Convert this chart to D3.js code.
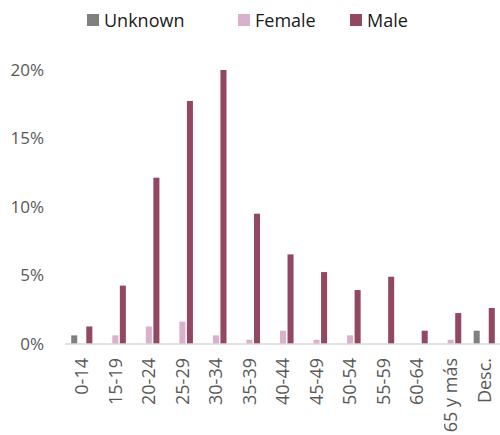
<!DOCTYPE html>
<html>
<head>
<meta charset="utf-8">
<script src="https://cdn.jsdelivr.net/npm/d3@7"></script>
<style>
  body { margin: 0; background: #fff; }
  text { font-family: "Open Sans", sans-serif; }
</style>
</head>
<body>
<div id="viz"></div>
<script>
// age groups and share of total (%) per sex
var categories = ['0-14','15-19','20-24','25-29','30-34','35-39','40-44','45-49','50-54','55-59','60-64','65 y más','Desc.'];
var series = ['Unknown', 'Female', 'Male'];
var unknownVals = [0.63, 0, 0, 0, 0, 0, 0, 0, 0, 0, 0, 0, 0.97];
var femaleVals  = [0, 0.63, 1.28, 1.63, 0.63, 0.31, 0.97, 0.31, 0.63, 0, 0, 0.31, 0];
var maleVals    = [1.28, 4.26, 12.14, 17.74, 20.0, 9.51, 6.54, 5.25, 3.94, 4.91, 0.97, 2.26, 2.63];
var yTicks = [0, 5, 10, 15, 20];

var colors = { Unknown: '#808080', Female: '#dbb0cc', Male: '#924763' };

var width = 500, height = 435;
var svg = d3.select('#viz').append('svg')
  .attr('width', width)
  .attr('height', height);

var rows = categories.map(function(c, i) {
  return { cat: c, Unknown: unknownVals[i], Female: femaleVals[i], Male: maleVals[i] };
});

var x0 = d3.scaleBand()
  .domain(categories)
  .range([65, 501])
  .paddingInner(0.37)
  .paddingOuter(0.185);

var x1 = d3.scaleBand()
  .domain(series)
  .range([0, x0.bandwidth()])
  .paddingInner(0.2);

var y = d3.scaleLinear()
  .domain([0, 20])
  .range([344, 70]);

// y axis labels only
var yAxis = d3.axisLeft(y).tickValues(yTicks).tickFormat(function(d) { return d + '%'; }).tickSize(0).tickPadding(0);
svg.append('g')
  .attr('transform', 'translate(44,0)')
  .call(yAxis)
  .call(function(g) {
    g.select('.domain').remove();
    g.selectAll('text').attr('fill', '#595959').style('font-size', '17px');
  });

// bars
var groups = svg.append('g').selectAll('g').data(rows)
  .enter().append('g')
  .attr('transform', function(d) { return 'translate(' + x0(d.cat) + ',0)'; });

groups.selectAll('rect')
  .data(function(d) { return series.map(function(s) { return { key: s, value: d[s] }; }); })
  .enter().append('rect')
  .filter(function(d) { return d.value > 0; })
  .attr('x', function(d) { return x1(d.key); })
  .attr('y', function(d) { return y(d.value); })
  .attr('width', x1.bandwidth())
  .attr('height', function(d) { return y(0) - y(d.value); })
  .attr('fill', function(d) { return colors[d.key]; });

// x axis
var xAxis = d3.axisBottom(x0).tickSize(0).tickPadding(0);
svg.append('g')
  .attr('transform', 'translate(0,' + y(0) + ')')
  .call(xAxis)
  .call(function(g) {
    g.select('.domain').attr('stroke', '#d9d9d9').attr('stroke-width', 1.5)
      .attr('d', 'M' + 65 + ',0H' + 500);
    g.selectAll('text')
      .attr('fill', '#595959')
      .style('font-size', '18px')
      .attr('text-anchor', 'end')
      .attr('dy', '0.35em')
      .attr('dx', 0)
      .attr('transform', 'translate(0,14) rotate(-90)')
      .attr('x', 0).attr('y', 0);
  });

// legend
var legendPos = [{ s: 'Unknown', x: 87 }, { s: 'Female', x: 238 }, { s: 'Male', x: 350 }];
var leg = svg.append('g').selectAll('g').data(legendPos)
  .enter().append('g')
  .attr('transform', function(d) { return 'translate(' + d.x + ',14)'; });
leg.append('rect').attr('width', 12).attr('height', 12)
  .attr('fill', function(d) { return colors[d.s]; });
leg.append('text').attr('x', 17).attr('y', 12.5)
  .attr('fill', '#1a1a1a').style('font-size', '18px')
  .text(function(d) { return d.s; });
</script>
</body>
</html>
